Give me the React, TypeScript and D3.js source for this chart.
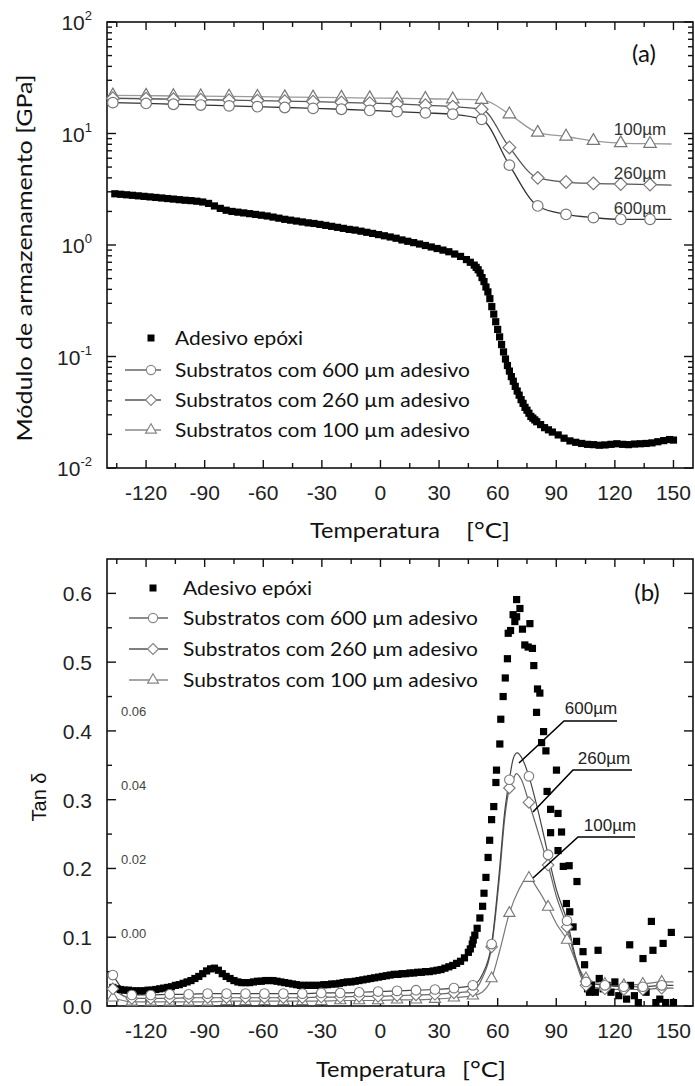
import React, { useEffect, useRef } from 'react';
import * as d3 from 'd3';

// ---------- shared axis data ----------
const X_MAJOR = [-120, -90, -60, -30, 0, 30, 60, 90, 120, 150];
const X_MINOR = [-135, -105, -75, -45, -15, 15, 45, 75, 105, 135];
const LOG_DECADES = [0.01, 0.1, 1, 10, 100];
const LOG_EXP = ['-2', '-1', '0', '1', '2'];
const LOG_MINOR_MULT = [2, 3, 4, 5, 6, 7, 8, 9];
const TAN_MAJOR = [0, 0.1, 0.2, 0.3, 0.4, 0.5, 0.6];
const TAN_LABELS = ['0.0', '0.1', '0.2', '0.3', '0.4', '0.5', '0.6'];
const TAN_MINOR = [0.05, 0.15, 0.25, 0.35, 0.45, 0.55];
const INSET_VALS = [0.06, 0.04, 0.02, 0.0];
const INSET_LABELS = ['0.06', '0.04', '0.02', '0.00'];

const LEGEND = ['Adesivo epóxi', 'Substratos com 600 µm adesivo', 'Substratos com 260 µm adesivo', 'Substratos com 100 µm adesivo'];

// ---------- panel (a): storage modulus ----------
const epoxyT = [-136, -133, -130, -127, -124, -121, -118, -115, -112, -109, -106, -103, -100, -97, -94, -91, -88, -85, -82, -79, -76, -73, -70, -67, -64, -61, -58, -55, -52, -49, -46, -43, -40, -37, -34, -31, -28, -25, -22, -19, -16, -13, -10, -7, -4, -1, 2, 5, 8, 11, 14, 17, 20, 23, 26, 29, 32, 35, 38, 41, 44, 46, 48, 49, 50, 51, 52, 53, 54, 55, 56, 57, 58, 59, 60, 61, 62, 63, 64, 65, 66, 67, 68, 69, 70, 71, 72, 73, 74, 75, 76, 77, 78, 79, 80, 82, 84, 86, 88, 91, 94, 97, 100, 103, 106, 109, 112, 115, 118, 121, 124, 127, 130, 133, 136, 139, 142, 145, 148, 150];
const epoxyE = [2.88, 2.85, 2.82, 2.79, 2.76, 2.73, 2.70, 2.67, 2.64, 2.61, 2.58, 2.55, 2.52, 2.50, 2.47, 2.43, 2.36, 2.24, 2.13, 2.05, 2.00, 1.97, 1.94, 1.91, 1.88, 1.85, 1.82, 1.78, 1.74, 1.70, 1.67, 1.64, 1.61, 1.58, 1.56, 1.53, 1.50, 1.47, 1.44, 1.41, 1.38, 1.36, 1.33, 1.30, 1.27, 1.24, 1.21, 1.18, 1.15, 1.11, 1.08, 1.05, 1.02, 0.99, 0.96, 0.93, 0.90, 0.87, 0.83, 0.79, 0.74, 0.70, 0.66, 0.63, 0.60, 0.56, 0.51, 0.47, 0.42, 0.38, 0.33, 0.28, 0.24, 0.205, 0.175, 0.15, 0.128, 0.11, 0.095, 0.083, 0.074, 0.066, 0.060, 0.054, 0.049, 0.045, 0.041, 0.038, 0.035, 0.033, 0.031, 0.029, 0.028, 0.027, 0.026, 0.0245, 0.023, 0.022, 0.021, 0.0198, 0.0185, 0.0175, 0.017, 0.0166, 0.0163, 0.0162, 0.016, 0.0161, 0.0163, 0.0165, 0.0163, 0.0162, 0.0164, 0.0165, 0.0166, 0.0168, 0.0172, 0.0176, 0.018, 0.0178];

const subT = [-137, -120, -106, -92, -77.5, -63, -49, -34.5, -20, -5.5, 8.5, 23, 37, 51.8, 66, 80.5, 95, 109, 123, 138, 149];
const sub100E = [22.0, 21.9, 21.7, 21.6, 21.5, 21.4, 21.2, 21.1, 21.0, 20.8, 20.7, 20.5, 20.3, 20.1, 14.9, 10.2, 9.4, 8.6, 8.2, 8.1, 8.05];
const sub260E = [20.7, 20.5, 20.3, 20.1, 19.9, 19.7, 19.5, 19.3, 19.0, 18.7, 18.4, 17.9, 17.4, 16.5, 7.5, 4.0, 3.67, 3.57, 3.52, 3.48, 3.45];
const sub600E = [18.9, 18.6, 18.3, 18.0, 17.7, 17.4, 17.1, 16.8, 16.5, 16.1, 15.7, 15.3, 14.9, 13.4, 5.2, 2.24, 1.88, 1.76, 1.70, 1.70, 1.70];

// ---------- panel (b): tan delta ----------
const tanEpoxyT = [-137, -135, -133, -131, -129, -127, -125, -123, -121, -119, -117, -115, -113, -111, -109, -107, -105, -103, -101, -99, -97, -95, -93, -91, -89, -87, -85, -83, -81, -79, -77, -75, -73, -71, -69, -67, -65, -63, -61, -59, -57, -55, -53, -51, -49, -47, -45, -43, -41, -39, -37, -35, -33, -31, -29, -27, -25, -23, -21, -19, -17, -15, -13, -11, -9, -7, -5, -3, -1, 1, 3, 5, 7, 9, 11, 13, 15, 17, 19, 21, 23, 25, 27, 29, 31, 33, 35, 37, 39, 41, 43, 45, 46, 47,
  47.5, 48.3, 49.5, 50.9, 52.3, 53.0, 54.0, 55.1, 55.9, 56.9, 58.0, 59.1, 59.4, 61.1, 61.6, 62.8, 63.9, 65.0, 65.4, 66.6, 67.9, 68.8, 69.7, 69.7, 71.4, 72.7, 73.9, 75.6, 76.5, 77.8, 78.5, 79.9, 80.4, 81.6, 82.5, 83.5, 84.7, 85.3, 87.1, 87.1, 90.1, 90.9, 90.9, 92.7, 93.6, 95.2, 96.6, 96.9, 98.6, 100.4, 100.6,
  103.7, 104.5, 105, 106, 107, 108, 110, 111.4, 112, 114, 116, 118, 120, 122, 124, 126, 127.6, 128, 130, 132, 134.4, 136, 138.7, 139.5, 141, 143, 144.7, 146, 148.9, 150];
const tanEpoxyV = [0.027, 0.025, 0.024, 0.023, 0.023, 0.022, 0.022, 0.022, 0.022, 0.023, 0.023, 0.024, 0.025, 0.026, 0.027, 0.028, 0.030, 0.031, 0.033, 0.035, 0.037, 0.040, 0.043, 0.047, 0.051, 0.054, 0.055, 0.052, 0.047, 0.043, 0.040, 0.037, 0.035, 0.034, 0.034, 0.034, 0.035, 0.036, 0.036, 0.037, 0.037, 0.037, 0.036, 0.035, 0.034, 0.033, 0.032, 0.031, 0.030, 0.030, 0.030, 0.030, 0.030, 0.030, 0.031, 0.031, 0.032, 0.032, 0.033, 0.034, 0.035, 0.035, 0.036, 0.037, 0.038, 0.039, 0.040, 0.041, 0.042, 0.043, 0.044, 0.045, 0.046, 0.046, 0.047, 0.047, 0.048, 0.048, 0.049, 0.049, 0.050, 0.050, 0.051, 0.052, 0.053, 0.055, 0.057, 0.059, 0.062, 0.065, 0.070, 0.078, 0.083, 0.090,
  0.096, 0.103, 0.113, 0.128, 0.145, 0.164, 0.187, 0.216, 0.241, 0.271, 0.290, 0.325, 0.343, 0.381, 0.417, 0.450, 0.477, 0.505, 0.542, 0.546, 0.569, 0.559, 0.566, 0.591, 0.578, 0.548, 0.525, 0.522, 0.556, 0.520, 0.495, 0.427, 0.461, 0.455, 0.383, 0.399, 0.371, 0.312, 0.286, 0.252, 0.343, 0.280, 0.226, 0.253, 0.203, 0.149, 0.204, 0.137, 0.115, 0.094, 0.181,
  0.079, 0.060, 0.035, 0.025, 0.020, 0.030, 0.020, 0.081, 0.040, 0.025, 0.030, 0.020, 0.035, 0.015, 0.025, 0.010, 0.089, 0.030, 0.015, 0.005, 0.069, 0.020, 0.123, 0.081, 0.005, 0.010, 0.091, 0.005, 0.107, 0.005];

const tanMarkT = [-137, -127.3, -117.6, -107.9, -98.2, -88.5, -78.8, -69.1, -59.4, -49.7, -40, -30.3, -20.6, -10.9, -1.2, 8.5, 18.2, 27.9, 37.6, 47.3, 56.9, 66, 76, 85.8, 95.5, 105.2, 114.9, 124.6, 134.3, 144];
const tan600V = [0.045, 0.016, 0.016, 0.017, 0.017, 0.018, 0.018, 0.018, 0.018, 0.018, 0.018, 0.019, 0.019, 0.020, 0.021, 0.022, 0.023, 0.024, 0.026, 0.030, 0.090, 0.329, 0.334, 0.220, 0.124, 0.035, 0.030, 0.028, 0.028, 0.030];
const tan260V = [0.025, 0.011, 0.011, 0.011, 0.012, 0.012, 0.012, 0.012, 0.012, 0.012, 0.012, 0.013, 0.013, 0.014, 0.014, 0.015, 0.016, 0.017, 0.019, 0.022, 0.086, 0.317, 0.296, 0.205, 0.115, 0.030, 0.025, 0.024, 0.024, 0.026];
const tan100V = [0.012, 0.006, 0.006, 0.006, 0.006, 0.006, 0.007, 0.007, 0.007, 0.007, 0.007, 0.007, 0.008, 0.008, 0.008, 0.009, 0.009, 0.010, 0.012, 0.015, 0.040, 0.135, 0.186, 0.144, 0.096, 0.040, 0.032, 0.030, 0.032, 0.035];
// extra (unmarked) points of the continuous curves
const ext600T = [52, 61, 63.5, 68, 70, 72.5, 81, 90, 100, 150];
const ext600V = [0.045, 0.20, 0.28, 0.36, 0.368, 0.36, 0.28, 0.17, 0.07, 0.030];
const ext260T = [52, 61, 63.5, 68, 69.5, 72, 81, 90, 100, 150];
const ext260V = [0.040, 0.19, 0.27, 0.33, 0.338, 0.33, 0.25, 0.16, 0.065, 0.026];
const ext100T = [52, 61, 71, 73.5, 80.5, 90, 100, 150];
const ext100V = [0.020, 0.08, 0.17, 0.182, 0.17, 0.12, 0.065, 0.035];

const CURVE_LABELS = ['600µm', '260µm', '100µm'];

const W = 695, H = 1086;
const L = 107, R = 693;
const TOP = { t: 22, b: 468 };
const BOT = { t: 559, b: 1006 };
const TICK_FONT = '"Liberation Sans", Arial, sans-serif';
const TEXT_FONT = 'Lato, "Open Sans", sans-serif';

export default function App() {
  const ref = useRef<SVGSVGElement>(null);
  useEffect(() => {
    const svg = d3.select(ref.current);
    svg.selectAll('*').remove();
    svg.append('rect').attr('width', W).attr('height', H).attr('fill', '#fff');

    const x = d3.scaleLinear().domain([-140, 160]).range([L, R]);
    const yE = d3.scaleLog().domain([0.01, 100]).range([TOP.b, TOP.t]);
    const yT = d3.scaleLinear().domain([0, 0.65]).range([BOT.b, BOT.t]);

    const diamond = (h: number) => `M0,${-h}L${h},0L0,${h}L${-h},0Z`;
    const tri = (s: number) => {
      const h = s * Math.sqrt(3) / 2;
      return `M0,${-h * 2 / 3}L${s / 2},${h / 3}L${-s / 2},${h / 3}Z`;
    };
    const markerPath = (kind: string, s: number) => {
      if (kind === 'c') return d3.symbol(d3.symbolCircle, Math.PI * s * s)() as string;
      if (kind === 'd') return diamond(s * 1.2);
      return tri(s * 2.35);
    };

    const frame = (t: number, b: number) => {
      svg.append('rect').attr('x', L).attr('y', t).attr('width', R - L).attr('height', b - t)
        .attr('fill', 'none').attr('stroke', '#111').attr('stroke-width', 1.6);
      const g = svg.append('g').attr('stroke', '#111').attr('stroke-width', 1.4);
      X_MAJOR.forEach(v => {
        g.append('line').attr('x1', x(v)).attr('x2', x(v)).attr('y1', b).attr('y2', b - 8);
        g.append('line').attr('x1', x(v)).attr('x2', x(v)).attr('y1', t).attr('y2', t + 8);
      });
      X_MINOR.forEach(v => {
        g.append('line').attr('x1', x(v)).attr('x2', x(v)).attr('y1', b).attr('y2', b - 5);
        g.append('line').attr('x1', x(v)).attr('x2', x(v)).attr('y1', t).attr('y2', t + 5);
      });
      X_MAJOR.forEach(v => {
        svg.append('text').attr('x', x(v)).attr('y', b + 32).attr('text-anchor', 'middle')
          .attr('font-family', TICK_FONT).attr('font-size', 21).attr('fill', '#222').text(String(v));
      });
    };
    const yTick = (y: number, len: number) => {
      svg.append('line').attr('x1', L).attr('x2', L + len).attr('y1', y).attr('y2', y).attr('stroke', '#111').attr('stroke-width', 1.4);
      svg.append('line').attr('x1', R).attr('x2', R - len).attr('y1', y).attr('y2', y).attr('stroke', '#111').attr('stroke-width', 1.4);
    };

    // ===== Panel (a) =====
    frame(TOP.t, TOP.b);
    LOG_DECADES.forEach((d, i) => {
      yTick(yE(d), 9);
      const t = svg.append('text').attr('x', 92).attr('y', yE(d) + 8).attr('text-anchor', 'end')
        .attr('font-family', TICK_FONT).attr('font-size', 21).attr('fill', '#222');
      t.append('tspan').text('10');
      t.append('tspan').attr('dy', -10).attr('font-size', 13).text(LOG_EXP[i]);
    });
    LOG_DECADES.slice(0, 4).forEach(d => LOG_MINOR_MULT.forEach(m => yTick(yE(d * m), 5)));

    // substrate curves (a)
    const lineE = d3.line<[number, number]>().x(d => x(d[0])).y(d => yE(d[1])).curve(d3.curveMonotoneX);
    const subsA = [
      { v: sub100E, kind: 't', line: '#9a9a9a' },
      { v: sub260E, kind: 'd', line: '#555' },
      { v: sub600E, kind: 'c', line: '#333' },
    ];
    subsA.forEach(s => {
      const pts = subT.map((t, i) => [t, s.v[i]] as [number, number]);
      svg.append('path').attr('d', lineE(pts)).attr('fill', 'none').attr('stroke', s.line).attr('stroke-width', 1.3);
    });
    subsA.forEach(s => {
      subT.slice(0, subT.length - 1).forEach((t, i) => {
        svg.append('path').attr('d', markerPath(s.kind, 5.3))
          .attr('transform', `translate(${x(t)},${yE(s.v[i])})`)
          .attr('fill', '#fff').attr('stroke', '#777').attr('stroke-width', 1.2);
      });
    });
    // epoxy squares (a)
    epoxyT.forEach((t, i) => {
      svg.append('rect').attr('x', x(t) - 3.6).attr('y', yE(epoxyE[i]) - 3.6).attr('width', 7.2).attr('height', 7.2).attr('fill', '#000');
    });

    // curve labels (a)
    const labA = [{ s: CURVE_LABELS[2], y: 135 }, { s: CURVE_LABELS[1], y: 179 }, { s: CURVE_LABELS[0], y: 214 }];
    labA.forEach(l => svg.append('text').attr('x', 640).attr('y', l.y).attr('text-anchor', 'middle')
      .attr('font-family', TICK_FONT).attr('font-size', 17).attr('fill', '#333').text(l.s));
    svg.append('text').attr('x', 644).attr('y', 62).attr('text-anchor', 'middle').attr('font-family', TEXT_FONT)
      .attr('font-size', 24).attr('fill', '#111').text('(a)');

    // legend
    const legend = (x0: number, x1: number, xm: number, xt: number, rows: number[], widths: number[]) => {
      svg.append('rect').attr('x', xm - 3.5).attr('y', rows[0] - 3.5).attr('width', 7).attr('height', 7).attr('fill', '#000');
      const kinds = ['c', 'd', 't'];
      const cols = ['#666', '#555', '#888'];
      [1, 2, 3].forEach(k => {
        svg.append('line').attr('x1', x0).attr('x2', x1).attr('y1', rows[k]).attr('y2', rows[k]).attr('stroke', cols[k - 1]).attr('stroke-width', 1.3);
        svg.append('path').attr('d', markerPath(kinds[k - 1], 4.6)).attr('transform', `translate(${xm},${rows[k]})`)
          .attr('fill', '#fff').attr('stroke', '#888').attr('stroke-width', 1.2);
      });
      LEGEND.forEach((s, k) => svg.append('text').attr('x', xt).attr('y', rows[k] + 7).attr('font-family', TEXT_FONT)
        .attr('font-size', 20).attr('fill', '#111').attr('textLength', widths[k]).attr('lengthAdjust', 'spacingAndGlyphs').text(s));
    };
    legend(125, 161, 151, 175, [338, 370, 400, 430], [128, 295, 295, 295]);

    // axis titles (a)
    svg.append('text').attr('transform', 'translate(32,258) rotate(-90)').attr('text-anchor', 'middle')
      .attr('font-family', TEXT_FONT).attr('font-size', 21).attr('fill', '#111')
      .attr('textLength', 367).attr('lengthAdjust', 'spacingAndGlyphs').text('Módulo de armazenamento [GPa]');
    svg.append('text').attr('x', 310).attr('y', 538).attr('font-family', TEXT_FONT).attr('font-size', 21).attr('fill', '#111')
      .attr('textLength', 130).attr('lengthAdjust', 'spacingAndGlyphs').text('Temperatura');
    svg.append('text').attr('x', 466).attr('y', 538).attr('font-family', TEXT_FONT).attr('font-size', 21).attr('fill', '#111')
      .attr('textLength', 44).attr('lengthAdjust', 'spacingAndGlyphs').text('[°C]');

    // ===== Panel (b) =====
    frame(BOT.t, BOT.b);
    TAN_MAJOR.forEach((v, i) => {
      yTick(yT(v), 9);
      svg.append('text').attr('x', 92).attr('y', yT(v) + 8).attr('text-anchor', 'end')
        .attr('font-family', TICK_FONT).attr('font-size', 21).attr('fill', '#222').text(TAN_LABELS[i]);
    });
    TAN_MINOR.forEach(v => yTick(yT(v), 5));
    const yIn = d3.scaleLinear().domain([0, 0.06]).range([938, 716]);
    INSET_VALS.forEach((v, i) => svg.append('text').attr('x', 121).attr('y', yIn(v)).attr('font-family', TICK_FONT)
      .attr('font-size', 13).attr('fill', '#444').text(INSET_LABELS[i]));

    const lineT = d3.line<[number, number]>().x(d => x(d[0])).y(d => yT(d[1])).curve(d3.curveMonotoneX);
    const subsB = [
      { v: tan100V, et: ext100T, ev: ext100V, kind: 't', line: '#777' },
      { v: tan260V, et: ext260T, ev: ext260V, kind: 'd', line: '#666' },
      { v: tan600V, et: ext600T, ev: ext600V, kind: 'c', line: '#444' },
    ];
    subsB.forEach(s => {
      const pts = tanMarkT.map((t, i) => [t, s.v[i]] as [number, number])
        .concat(s.et.map((t, i) => [t, s.ev[i]] as [number, number]))
        .sort((a, b) => a[0] - b[0]);
      svg.append('path').attr('d', lineT(pts)).attr('fill', 'none').attr('stroke', s.line).attr('stroke-width', 1.2);
    });
    // epoxy squares (b)
    tanEpoxyT.forEach((t, i) => {
      svg.append('rect').attr('x', x(t) - 3.6).attr('y', yT(tanEpoxyV[i]) - 3.6).attr('width', 7.2).attr('height', 7.2).attr('fill', '#000');
    });
    subsB.forEach(s => {
      tanMarkT.forEach((t, i) => {
        svg.append('path').attr('d', markerPath(s.kind, 4.8))
          .attr('transform', `translate(${x(t)},${yT(s.v[i])})`)
          .attr('fill', '#fff').attr('stroke', '#777').attr('stroke-width', 1.1);
      });
    });

    // leader lines and labels (b)
    const leaders = [
      { s: CURVE_LABELS[0], tx: 591, ty: 714, pts: [[617, 721], [564, 721], [519, 763]] },
      { s: CURVE_LABELS[1], tx: 604, ty: 764, pts: [[632, 770], [573, 770], [533, 812]] },
      { s: CURVE_LABELS[2], tx: 610, ty: 831, pts: [[635, 837], [578, 837], [533, 878]] },
    ];
    leaders.forEach(l => {
      svg.append('path').attr('d', d3.line()(l.pts as [number, number][])).attr('fill', 'none').attr('stroke', '#000').attr('stroke-width', 1.6);
      svg.append('text').attr('x', l.tx).attr('y', l.ty).attr('text-anchor', 'middle').attr('font-family', TICK_FONT)
        .attr('font-size', 17).attr('fill', '#222').text(l.s);
    });
    svg.append('text').attr('x', 647).attr('y', 601).attr('text-anchor', 'middle').attr('font-family', TEXT_FONT)
      .attr('font-size', 24).attr('fill', '#111').text('(b)');

    legend(129, 168, 153, 183, [588, 618, 649, 680], [129, 295, 295, 295]);

    svg.append('text').attr('transform', 'translate(46,797) rotate(-90)').attr('text-anchor', 'middle')
      .attr('font-family', TICK_FONT).attr('font-size', 20).attr('fill', '#111').text('Tan δ');
    svg.append('text').attr('x', 316).attr('y', 1077).attr('font-family', TEXT_FONT).attr('font-size', 21).attr('fill', '#111')
      .attr('textLength', 130).attr('lengthAdjust', 'spacingAndGlyphs').text('Temperatura');
    svg.append('text').attr('x', 462).attr('y', 1077).attr('font-family', TEXT_FONT).attr('font-size', 21).attr('fill', '#111')
      .attr('textLength', 44).attr('lengthAdjust', 'spacingAndGlyphs').text('[°C]');
  }, []);
  return <svg ref={ref} width={W} height={H} style={{ position: 'absolute', left: 0, top: 0, display: 'block' }} />;
}
